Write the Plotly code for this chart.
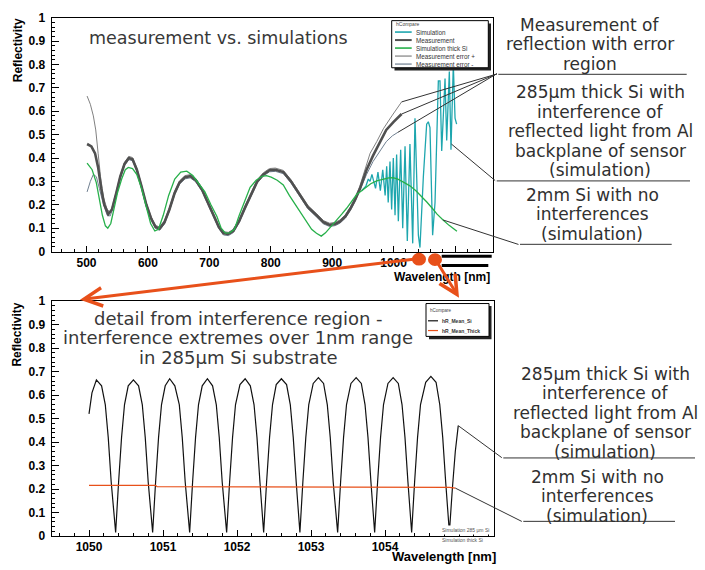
import plotly.graph_objects as go

W, H = 705, 570

# ---------------- top panel: measurement vs simulations ----------------
meas_wl = [501, 508, 514, 519, 524, 529, 535.5, 541.5, 548.5, 555, 562, 569, 575, 582, 589.5,
           597.5, 605.5, 612.5, 619, 627, 635, 643.5, 651.5, 660.5, 669, 678, 688, 697.5, 707.5,
           715.5, 723, 731, 739, 748.5, 758.5, 768.5, 778, 788, 798, 807.5, 820.5, 833, 848,
           860.5, 874.5, 886, 896, 905, 912.5, 921.5, 929.5, 937, 945, 956, 966.5, 977.5, 988,
           1000, 1013]
meas_val = [0.46, 0.45, 0.42, 0.36, 0.27, 0.20, 0.16, 0.18, 0.25, 0.32, 0.375, 0.40, 0.395, 0.35,
            0.28, 0.20, 0.14, 0.105, 0.098, 0.125, 0.18, 0.25, 0.295, 0.318, 0.322, 0.305, 0.265,
            0.21, 0.15, 0.105, 0.078, 0.075, 0.088, 0.13, 0.19, 0.25, 0.30, 0.33, 0.348, 0.35,
            0.34, 0.30, 0.24, 0.19, 0.155, 0.125, 0.114, 0.118, 0.128, 0.15, 0.183, 0.22, 0.267,
            0.35, 0.41, 0.47, 0.52, 0.555, 0.588]

errp_wl = [501, 506.3, 511.2, 515.1, 519, 522.9, 527.8, 533.7, 538.6,
           541.5, 548.5, 555, 562, 569, 575, 582, 589.5, 597.5, 605.5, 612.5, 619, 627, 635, 643.5,
           651.5, 660.5, 669, 678, 688, 697.5, 707.5, 715.5, 723, 731, 739, 748.5, 758.5, 768.5,
           778, 788, 798, 807.5, 820.5, 833, 848, 860.5, 874.5, 886, 896, 905, 912.5, 921.5,
           929.5, 937,
           945, 952.9, 961.7, 972.5, 983.3, 997.1, 1013]
errp_val = [0.665, 0.63, 0.58, 0.52, 0.42, 0.32, 0.23, 0.18, 0.168,
            0.187, 0.257, 0.327, 0.382, 0.407, 0.402, 0.357, 0.287, 0.207, 0.147, 0.112, 0.105,
            0.132, 0.187, 0.257, 0.302, 0.325, 0.329, 0.312, 0.272, 0.217, 0.157, 0.112, 0.085,
            0.082, 0.095, 0.137, 0.197, 0.257, 0.307, 0.337, 0.355, 0.357, 0.347, 0.307, 0.247,
            0.197, 0.162, 0.132, 0.121, 0.125, 0.135, 0.157, 0.19, 0.228,
            0.28, 0.35, 0.42, 0.47, 0.525, 0.58, 0.64]

errm_wl = [501, 506.3, 511.2, 516.1, 521, 526.8, 533.7, 538.6,
           541.5, 548.5, 555, 562, 569, 575, 582, 589.5, 597.5, 605.5, 612.5, 619, 627, 635, 643.5,
           651.5, 660.5, 669, 678, 688, 697.5, 707.5, 715.5, 723, 731, 739, 748.5, 758.5, 768.5,
           778, 788, 798, 807.5, 820.5, 833, 848, 860.5, 874.5, 886, 896, 905, 912.5, 921.5,
           929.5, 937,
           945, 956, 966.5, 977.5, 988, 998, 1007]
errm_val = [0.255, 0.30, 0.33, 0.32, 0.27, 0.21, 0.155, 0.152,
            0.173, 0.243, 0.313, 0.368, 0.393, 0.388, 0.343, 0.273, 0.193, 0.133, 0.098, 0.091,
            0.118, 0.173, 0.243, 0.288, 0.311, 0.315, 0.298, 0.258, 0.203, 0.143, 0.098, 0.071,
            0.068, 0.081, 0.123, 0.183, 0.243, 0.293, 0.323, 0.341, 0.343, 0.333, 0.293, 0.233,
            0.183, 0.148, 0.118, 0.107, 0.111, 0.121, 0.143, 0.176, 0.213,
            0.262, 0.33, 0.385, 0.43, 0.47, 0.495, 0.51]

thick_wl = [501, 509.2, 516, 520.9, 525.9, 530.8, 534.7, 539.6, 544.5, 550.4, 557.3, 563.2, 568.1,
            575, 581.8, 589.7, 597.5, 604.4, 611.3, 617.2, 625, 633.8, 643.7, 653.5, 663.3, 673.1,
            683, 692.8, 702.6, 712.4, 719.3, 726.2, 733, 740.9, 748.7, 758.5, 766.4, 776.2, 786,
            792.9, 800.7, 810.5, 820.4, 830.2, 840, 847.8, 856.7, 866.5, 874.4, 882.2, 889.1, 896,
            905.8, 915.6, 923.5, 933.3, 940.1, 948, 954.9, 962.7, 972.5, 982.3, 992.2, 999,
            1006.9, 1016.7, 1026.5, 1036.3, 1046.2, 1054, 1062.9, 1070.7, 1080.5, 1090.3, 1103.1]
thick_val = [0.378, 0.35, 0.295, 0.22, 0.155, 0.11, 0.10, 0.12, 0.18, 0.25, 0.31, 0.35, 0.36,
             0.355, 0.33, 0.27, 0.19, 0.12, 0.088, 0.095, 0.155, 0.24, 0.31, 0.34, 0.344, 0.325,
             0.29, 0.255, 0.2, 0.15, 0.1, 0.079, 0.08, 0.095, 0.155, 0.22, 0.275, 0.305, 0.322,
             0.325, 0.318, 0.305, 0.285, 0.24, 0.2, 0.17, 0.13, 0.095, 0.078, 0.066, 0.08, 0.1,
             0.13, 0.16, 0.185, 0.22, 0.245, 0.26, 0.275, 0.29, 0.302, 0.31, 0.315, 0.316,
             0.31, 0.296, 0.281, 0.26, 0.235, 0.212, 0.185, 0.16, 0.135, 0.112, 0.087]

sim_wl = [948, 954.9, 958.8, 961.7, 964.7, 967.6, 970.6, 974.5, 978.4, 982.3, 986.2, 988.7, 991.2,
          994.1, 996.8, 999.5, 1002.3, 1004.9, 1007.7, 1011.5, 1014.8, 1018.6, 1022.3, 1026.6,
          1031.1, 1034.8, 1040.3, 1042.9, 1048.4, 1053.8, 1056.5, 1059.2, 1063.5, 1067.4, 1072.8,
          1075.5, 1078.3, 1083.7, 1086.4, 1090.7, 1093.4, 1097.2, 1100, 1102.6]
sim_val = [0.26, 0.28, 0.31, 0.30, 0.33, 0.30, 0.27, 0.34, 0.26, 0.35, 0.24, 0.365, 0.21, 0.385,
           0.18, 0.40, 0.155, 0.415, 0.13, 0.435, 0.10, 0.45, 0.045, 0.46, 0.035, 0.57, 0.07,
           0.017, 0.32, 0.545, 0.555, 0.53, 0.07, 0.21, 0.73, 0.73, 0.43, 0.74, 0.475, 0.77,
           0.435, 0.80, 0.57, 0.545]

# ---------------- bottom panel: detail 1050-1055 nm ----------------
det_wl = [1050.00, 1050.04, 1050.10, 1050.17, 1050.22, 1050.26, 1050.30, 1050.36, 1050.40,
          1050.44, 1050.48, 1050.53, 1050.60, 1050.67, 1050.72, 1050.76, 1050.80, 1050.86,
          1050.90, 1050.94, 1050.98, 1051.03, 1051.09, 1051.16, 1051.22, 1051.26, 1051.30,
          1051.36, 1051.40, 1051.44, 1051.48, 1051.53, 1051.60, 1051.67, 1051.72, 1051.76,
          1051.80, 1051.86, 1051.90, 1051.94, 1051.98, 1052.04, 1052.11, 1052.18, 1052.23,
          1052.27, 1052.31, 1052.36, 1052.40, 1052.44, 1052.48, 1052.53, 1052.60, 1052.67,
          1052.72, 1052.76, 1052.80, 1052.85, 1052.89, 1052.93, 1052.97, 1053.03, 1053.10,
          1053.17, 1053.22, 1053.26, 1053.30, 1053.36, 1053.40, 1053.44, 1053.48, 1053.54,
          1053.61, 1053.68, 1053.73, 1053.77, 1053.81, 1053.86, 1053.90, 1053.94, 1053.98,
          1054.04, 1054.11, 1054.18, 1054.23, 1054.27, 1054.31, 1054.36, 1054.40, 1054.44,
          1054.48, 1054.55, 1054.62, 1054.69, 1054.74, 1054.78, 1054.82, 1054.87, 1054.91,
          1054.95, 1054.99]
det_val = [0.52, 0.61, 0.665, 0.64, 0.56, 0.42, 0.23, 0.015, 0.23,
           0.42, 0.56, 0.64, 0.665, 0.64, 0.56, 0.42, 0.23, 0.015,
           0.23, 0.42, 0.56, 0.64, 0.67, 0.64, 0.56, 0.42, 0.23,
           0.015, 0.23, 0.42, 0.56, 0.64, 0.67, 0.64, 0.56, 0.42,
           0.23, 0.015, 0.23, 0.42, 0.56, 0.645, 0.67, 0.64, 0.56,
           0.42, 0.23, 0.015, 0.23, 0.42, 0.56, 0.645, 0.67, 0.645,
           0.56, 0.42, 0.23, 0.015, 0.23, 0.42, 0.56, 0.65, 0.675,
           0.65, 0.56, 0.42, 0.23, 0.015, 0.23, 0.42, 0.56, 0.65,
           0.675, 0.65, 0.56, 0.42, 0.23, 0.015, 0.23, 0.42, 0.56,
           0.65, 0.675, 0.65, 0.56, 0.42, 0.23, 0.015, 0.23, 0.42,
           0.56, 0.655, 0.68, 0.655, 0.56, 0.42, 0.23, 0.015, 0.20,
           0.36, 0.47]
det_thick_wl = [1050.00, 1050.90, 1050.92, 1052.80, 1052.82, 1054.87, 1054.95]
det_thick_val = [0.216, 0.216, 0.21, 0.21, 0.207, 0.207, 0.204]

top_xtick_vals = [500, 600, 700, 800, 900, 1000, 1100]
top_xtick_text = ["500", "600", "700", "800", "900", "1000", ""]
bot_xtick_vals = [1050, 1051, 1052, 1053, 1054, 1055]
bot_xtick_text = ["1050", "1051", "1052", "1053", "1054", ""]

top_legend_names = ["Simulation", "Measurement", "Simulation thick Si",
                    "Measurement error +", "Measurement error -"]
bot_legend_names = ["hR_Mean_Si", "hR_Mean_Thick"]

# ---------------- colours ----------------
C_SIM = "#1ea6ae"
C_MEAS = "#505050"
C_THICK = "#27b04a"
C_ERRP = "#808080"
C_ERRM = "#6f7f90"
C_DET = "#111111"
C_DET_THICK = "#e8501a"
C_RED = "#e8501a"
C_TXT = "#303030"


def X(p):
    return p / W


def Y(p):
    return 1 - p / H


fig = go.Figure()
fig.add_trace(go.Scatter(x=errp_wl, y=errp_val, mode="lines", line=dict(color=C_ERRP, width=1),
                         xaxis="x", yaxis="y", name="Measurement error +"))
fig.add_trace(go.Scatter(x=errm_wl, y=errm_val, mode="lines", line=dict(color=C_ERRM, width=1),
                         xaxis="x", yaxis="y", name="Measurement error -"))
fig.add_trace(go.Scatter(x=meas_wl, y=meas_val, mode="lines", line=dict(color=C_MEAS, width=2.6),
                         xaxis="x", yaxis="y", name="Measurement"))
fig.add_trace(go.Scatter(x=sim_wl, y=sim_val, mode="lines", line=dict(color=C_SIM, width=1.3),
                         xaxis="x", yaxis="y", name="Simulation"))
fig.add_trace(go.Scatter(x=thick_wl, y=thick_val, mode="lines", line=dict(color=C_THICK, width=1.3),
                         xaxis="x", yaxis="y", name="Simulation thick Si"))
fig.add_trace(go.Scatter(x=det_wl, y=det_val, mode="lines", line=dict(color=C_DET, width=1.2),
                         xaxis="x2", yaxis="y2", name="Simulation 285 μm Si"))
fig.add_trace(go.Scatter(x=det_thick_wl, y=det_thick_val, mode="lines",
                         line=dict(color=C_DET_THICK, width=1.2),
                         xaxis="x2", yaxis="y2", name="Simulation thick Si"))

tickfont = dict(family="Liberation Sans, Arial", size=12, color="black", weight="bold")
axis_common = dict(showgrid=False, zeroline=False, showline=True, linecolor="black", linewidth=1,
                   mirror=True, ticks="inside", tickcolor="black", tickfont=tickfont)
yaxis_common = dict(range=[0, 1], tickmode="linear", tick0=0, dtick=0.1, ticklen=7,
                    minor=dict(ticks="inside", ticklen=3.5, dtick=0.02, tick0=0, tickcolor="black"),
                    ticklabelstandoff=3, **axis_common)

fig.update_layout(
    width=W, height=H, margin=dict(l=0, r=0, t=0, b=0),
    paper_bgcolor="white", plot_bgcolor="white", showlegend=False,
    xaxis=dict(domain=[X(51.7), X(492.7)], range=[443.4, 1161.3], anchor="y",
               tickmode="array", tickvals=top_xtick_vals, ticktext=top_xtick_text, ticklen=6,
               minor=dict(ticks="inside", ticklen=3, dtick=20, tick0=0, tickcolor="black"),
               **axis_common),
    yaxis=dict(domain=[Y(250.7), Y(11)], anchor="x", **yaxis_common),
    xaxis2=dict(domain=[X(51.7), X(494)], range=[1049.496, 1055.473], anchor="y2",
                tickmode="array", tickvals=bot_xtick_vals, ticktext=bot_xtick_text, ticklen=6,
                minor=dict(ticks="inside", ticklen=3, dtick=0.2, tick0=0, tickcolor="black"),
                **axis_common),
    yaxis2=dict(domain=[Y(542.3), Y(301.7)], anchor="x2", **yaxis_common),
)

shapes = []
annotations = []


def hline(x0, x1, y, color="#333333", width=1):
    shapes.append(dict(type="line", xref="paper", yref="paper", x0=X(x0), x1=X(x1),
                       y0=Y(y), y1=Y(y), line=dict(color=color, width=width), layer="above"))


def text(t, x, y, size, xanchor="center", yanchor="middle", color=C_TXT,
         family="DejaVu Sans", weight="normal", angle=0):
    annotations.append(dict(text=t, xref="paper", yref="paper", x=X(x), y=Y(y),
                            xanchor=xanchor, yanchor=yanchor, showarrow=False, textangle=angle,
                            font=dict(family=family, size=size, color=color, weight=weight)))


# ---- top legend (box with shadow) ----
shapes.append(dict(type="rect", xref="paper", yref="paper", x0=X(394.5), x1=X(491),
                   y0=Y(65), y1=Y(17), fillcolor="#222222", line=dict(width=0), layer="above"))
shapes.append(dict(type="rect", xref="paper", yref="paper", x0=X(391.7), x1=X(488.3),
                   y0=Y(62.3), y1=Y(14), fillcolor="white", line=dict(color="black", width=1),
                   layer="above"))
text("hCompare", 393.5, 17, 5, xanchor="left", color="#444", family="Liberation Sans")
top_leg_colors = [C_SIM, C_MEAS, C_THICK, C_ERRP, C_ERRM]
top_leg_widths = [1.6, 2, 1.6, 1.2, 1.2]
for i, (nm, col) in enumerate(zip(top_legend_names, top_leg_colors)):
    ry = 25.7 + i * 8.2
    hline(395, 411.7, ry, color=col, width=top_leg_widths[i])
    text(nm, 413.5, ry, 6.3, xanchor="left", color="#333", family="Liberation Sans")

# ---- bottom legend ----
shapes.append(dict(type="rect", xref="paper", yref="paper", x0=X(429), x1=X(491.5),
                   y0=Y(340.5), y1=Y(306.5), fillcolor="#222222", line=dict(width=0), layer="above"))
shapes.append(dict(type="rect", xref="paper", yref="paper", x0=X(426), x1=X(489),
                   y0=Y(337.7), y1=Y(304), fillcolor="white", line=dict(color="black", width=1),
                   layer="above"))
text("hCompare", 428, 310.7, 4.5, xanchor="left", color="#444", family="Liberation Sans")
for i, (nm, col) in enumerate(zip(bot_legend_names, [C_DET, C_DET_THICK])):
    ry = 321.7 + i * 10
    hline(428, 438, ry, color=col, width=1.2)
    text(nm, 440.5, ry, 5, xanchor="left", color="#333", family="Liberation Sans", weight="bold")

# ---- small labels bottom right of lower panel ----
annotations.append(dict(text="Simulation 285 μm Si", xref="paper", yref="paper", x=X(440),
                        y=Y(536.5), xanchor="left", yanchor="middle", showarrow=False,
                        bgcolor="white", font=dict(family="Liberation Sans", size=5, color="#555")))
annotations.append(dict(text="Simulation thick Si", xref="paper", yref="paper", x=X(440),
                        y=Y(546.5), xanchor="left", yanchor="middle", showarrow=False,
                        font=dict(family="Liberation Sans", size=5, color="#555")))

# ---- titles inside panels ----
text("measurement vs. simulations", 87, 31.5, 17.5, xanchor="left", color="#383838")
for i, line in enumerate(["detail from interference region -",
                          "interference extremes over 1nm range",
                          "in 285μm Si substrate"]):
    text(line, 238, 319 + i * 20, 18, color="#383838")

# ---- axis titles ----
text("Reflectivity", 17.5, 10, 12, angle=-90, yanchor="top", color="black",
     family="Liberation Sans", weight="bold")
text("Reflectivity", 17, 301, 12, angle=-90, yanchor="top", color="black",
     family="Liberation Sans", weight="bold")
text("Wavelength [nm]", 492, 276.5, 12, xanchor="right", color="black",
     family="Liberation Sans", weight="bold")
text("Wavelength [nm]", 498, 563, 13, xanchor="right", color="black",
     family="Liberation Sans", weight="bold")

# ---- right-hand explanatory text blocks ----
blocks = [
    (["Measurement of", "reflection with error", "region"], 590, 18.3),
    (["285μm thick Si with", "interference of", "reflected light from Al",
      "backplane of sensor", "(simulation)"], 600, 87.3),
    (["2mm Si with no", "interferences", "(simulation)"], 592, 192.7),
    (["285μm thick Si with", "interference of", "reflected light from Al",
      "backplane of sensor", "(simulation)"], 605, 376),
    (["2mm Si with no", "interferences", "(simulation)"], 597, 481.7),
]
for lines, cx, y0 in blocks:
    for i, line in enumerate(lines):
        text(line, cx, y0 + i * 20, 17)

# underlines of the text blocks
hline(498.3, 686.7, 69)
hline(496.7, 690, 178.3)
hline(520, 671.7, 243.3)
hline(503.3, 695, 462.3)
hline(523.3, 675, 527.3)


# leader lines from text blocks to the curve ends
def leader(xd, yd, xa, ya, tail_px, tail_py, tip_px, tip_py):
    annotations.append(dict(text="", x=xd, y=yd, xref=xa, yref=ya, showarrow=True, arrowhead=0,
                            arrowwidth=1, arrowcolor="#333333", ax=tail_px - tip_px,
                            ay=tail_py - tip_py, standoff=0, startstandoff=0))


def top_px(nm):
    return 86.47 + (nm - 500) * 0.6143


def top_py(v):
    return 250.7 - v * 239.7


def bot_px(nm):
    return 89 + (nm - 1050) * 74.0


def bot_py(v):
    return 542.3 - v * 240.6


leader(errp_wl[-1], errp_val[-1], "x", "y", 498.3, 69, top_px(errp_wl[-1]), top_py(errp_val[-1]))
leader(meas_wl[-1], meas_val[-1], "x", "y", 498.3, 69, top_px(meas_wl[-1]), top_py(meas_val[-1]))
leader(errm_wl[-1], errm_val[-1], "x", "y", 498.3, 69, top_px(errm_wl[-1]), top_py(errm_val[-1]))
leader(1094, 0.46, "x", "y", 496.7, 178.3, top_px(1094), top_py(0.46))
leader(1080.5, 0.135, "x", "y", 520, 243.3, top_px(1080.5), top_py(0.135))
leader(det_wl[-1], det_val[-1], "x2", "y2", 503.3, 462.3, bot_px(det_wl[-1]), bot_py(det_val[-1]))
leader(det_thick_wl[-1], det_thick_val[-1], "x2", "y2", 523.3, 527.3,
       bot_px(det_thick_wl[-1]), bot_py(det_thick_val[-1]))

# ---- black bars over the top x-axis title area ----
hline(441.7, 491.7, 255.5, color="black", width=3)
hline(441.7, 488.3, 265, color="black", width=3)

# ---- red zoom arrows and markers ----
annotations.append(dict(text="", xref="paper", yref="paper", x=X(80), y=Y(300), showarrow=True,
                        arrowhead=5, arrowsize=1.2, arrowwidth=3, arrowcolor=C_RED,
                        ax=419 - 80, ay=259 - 300, standoff=0))
annotations.append(dict(text="", xref="paper", yref="paper", x=X(459), y=Y(298), showarrow=True,
                        arrowhead=5, arrowsize=1.2, arrowwidth=3, arrowcolor=C_RED,
                        ax=435 - 459, ay=259 - 298, standoff=0))
for cx, cy in [(419, 258.5), (435, 259)]:
    shapes.append(dict(type="circle", xref="paper", yref="paper", x0=X(cx - 7), x1=X(cx + 7),
                       y0=Y(cy + 6.5), y1=Y(cy - 6.5), fillcolor=C_RED, line=dict(width=0),
                       layer="above"))

fig.update_layout(shapes=shapes, annotations=annotations)
fig.write_html("out.html", config={"displayModeBar": False})
